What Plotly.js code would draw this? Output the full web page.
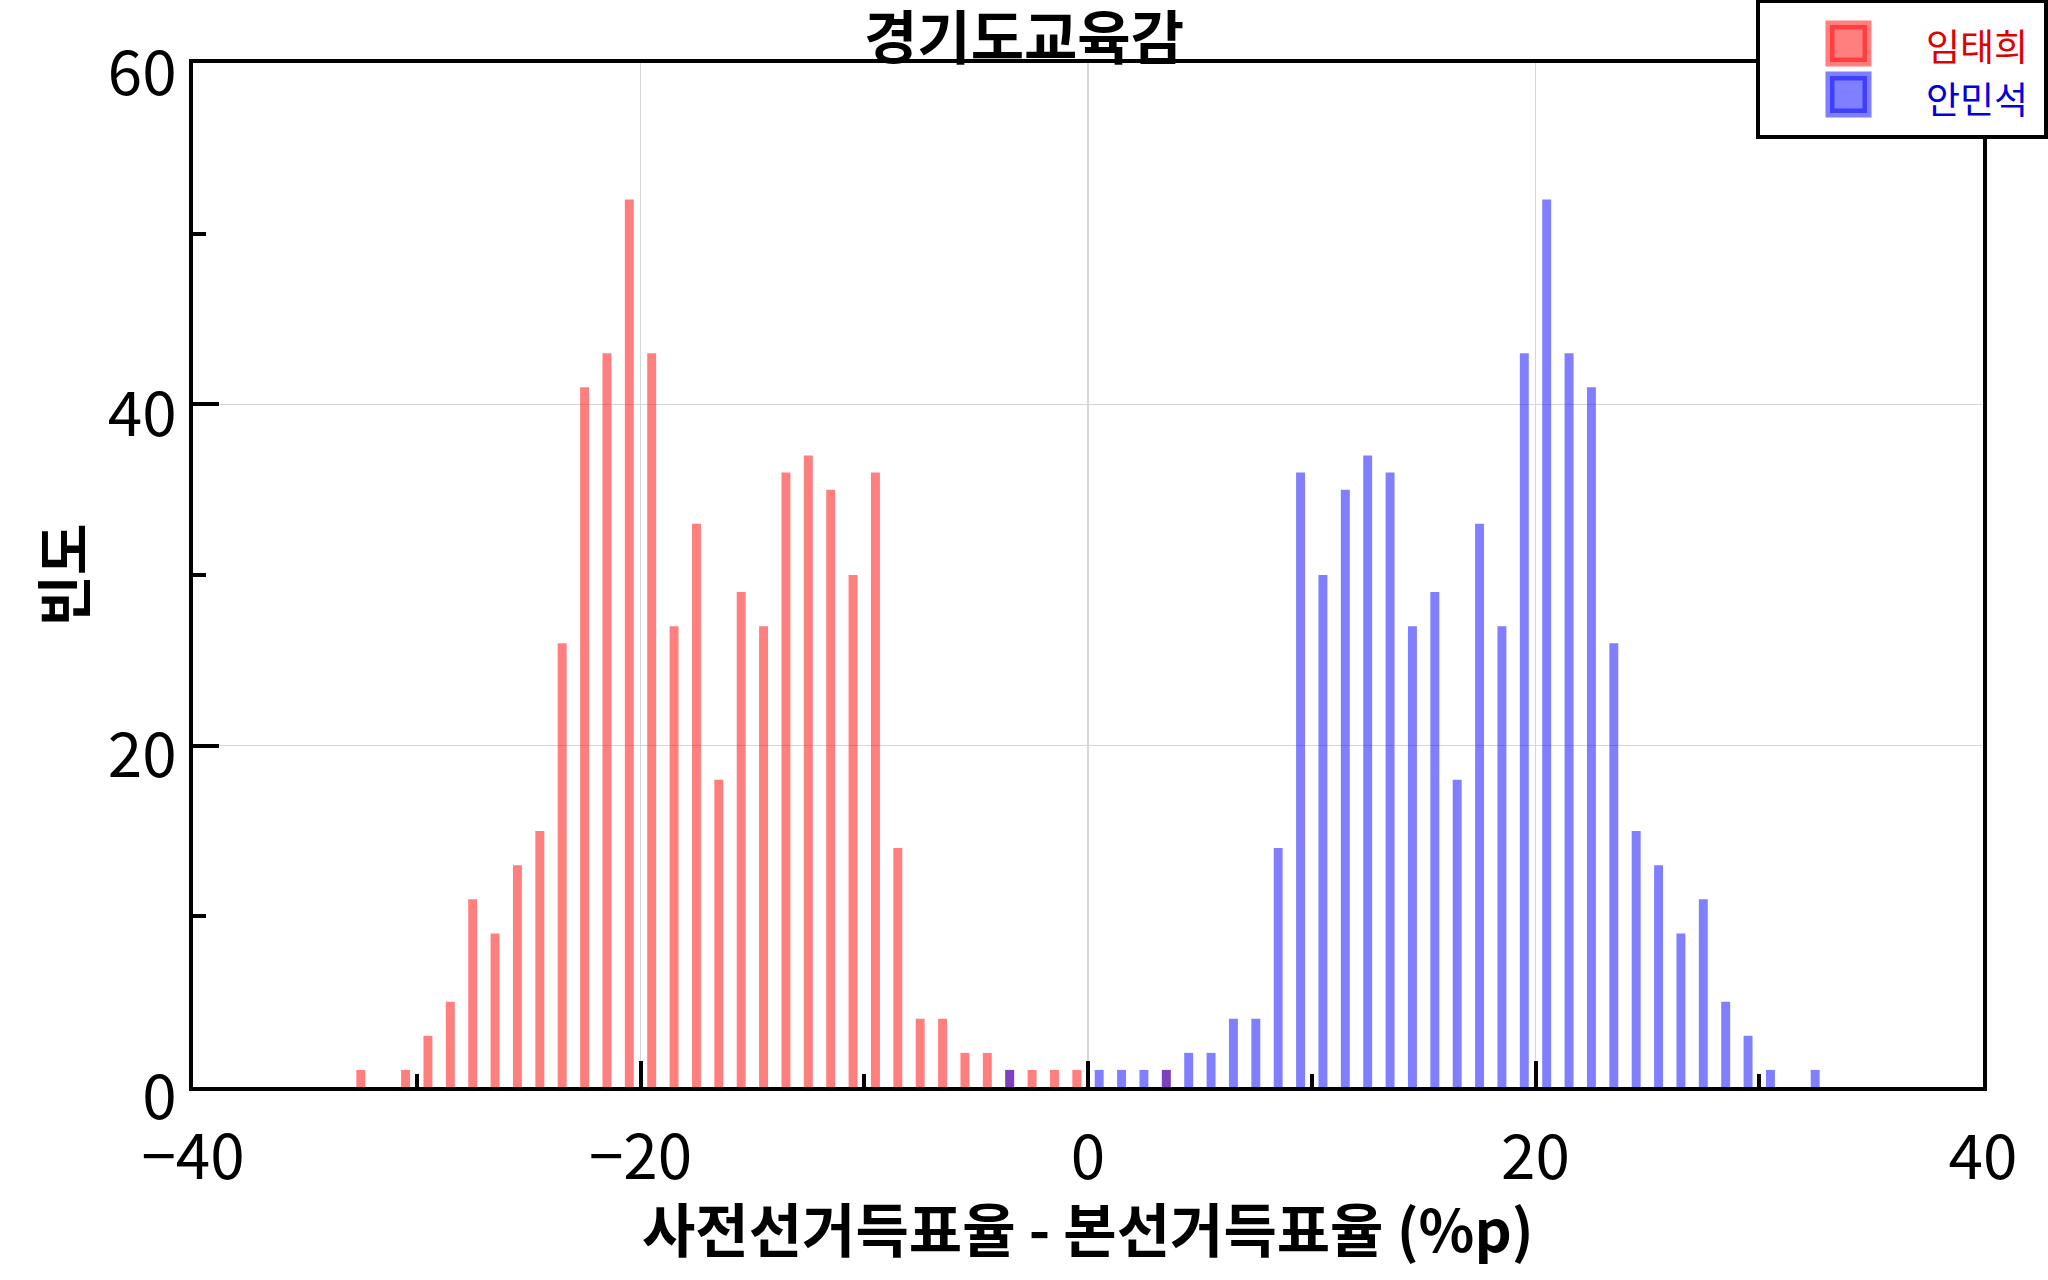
<!DOCTYPE html>
<html>
<head>
<meta charset="utf-8">
<script src="https://cdn.plot.ly/plotly-3.0.1.min.js"></script>
<style>
  html, body { margin: 0; padding: 0; background: #fff; }
  #chart { width: 2048px; height: 1280px; }
</style>
</head>
<body>
<div id="chart"></div>
<script>
// histogram bins (centre of each 1 %p bin) and counts
var names = ['임태희', '안민석'];

var redBins = [-32.5, -30.5, -29.5, -28.5, -27.5, -26.5, -25.5, -24.5, -23.5, -22.5,
               -21.5, -20.5, -19.5, -18.5, -17.5, -16.5, -15.5, -14.5, -13.5, -12.5,
               -11.5, -10.5, -9.5, -8.5, -7.5, -6.5, -5.5, -4.5, -3.5, -2.5,
               -1.5, -0.5, 3.5];
var redCounts = [1, 1, 3, 5, 11, 9, 13, 15, 26, 41,
                 43, 52, 43, 27, 33, 18, 29, 27, 36, 37,
                 35, 30, 36, 14, 4, 4, 2, 2, 1, 1,
                 1, 1, 1];

var blueBins = [-3.5, 0.5, 1.5, 2.5, 3.5, 4.5, 5.5, 6.5, 7.5, 8.5,
                9.5, 10.5, 11.5, 12.5, 13.5, 14.5, 15.5, 16.5, 17.5, 18.5,
                19.5, 20.5, 21.5, 22.5, 23.5, 24.5, 25.5, 26.5, 27.5, 28.5,
                29.5, 30.5, 32.5];
var blueCounts = [1, 1, 1, 1, 1, 2, 2, 4, 4, 14,
                  36, 30, 35, 37, 36, 27, 29, 18, 33, 27,
                  43, 52, 43, 41, 26, 15, 13, 9, 11, 5,
                  3, 1, 1];

var xTicks = [-40, -20, 0, 20, 40];
var yTicks = [0, 20, 40, 60];

var xTitle = '사전선거득표율 - 본선거득표율 (%p)';
var yTitle = '빈도';

var FONT = '"Noto Sans CJK KR", "Noto Sans", sans-serif';
var W = 2048, H = 1280;
var M = {l: 193, r: 65, t: 63, b: 193};

// pixel -> paper helpers for the hand-made legend and x title
function px(x) { return (x - M.l) / (W - M.l - M.r); }
function py(y) { return (H - M.b - y) / (H - M.t - M.b); }

var traces = [
  {
    type: 'bar', x: redBins, y: redCounts, name: names[0], width: 0.4,
    marker: {color: 'rgba(255,0,0,0.5)', line: {width: 0}}
  },
  {
    type: 'bar', x: blueBins, y: blueCounts, name: names[1], width: 0.4,
    marker: {color: 'rgba(0,0,255,0.5)', line: {width: 0}}
  }
];

var axisCommon = {
  showline: true, linewidth: 4, linecolor: '#000', mirror: true,
  ticks: 'inside', ticklen: 26, tickwidth: 4, tickcolor: '#000',
  showgrid: true, gridcolor: '#d6d6d6', gridwidth: 1.5,
  zeroline: false, automargin: false,
  tickfont: {family: FONT, size: 62, color: '#000'},
  minor: {dtick: 10, ticks: 'inside', ticklen: 13, tickwidth: 4, tickcolor: '#000', showgrid: false}
};

var layout = {
  width: W, height: H,
  margin: M,
  paper_bgcolor: '#fff', plot_bgcolor: '#fff',
  barmode: 'overlay',
  showlegend: false,
  font: {family: FONT, color: '#000'},
  title: {
    text: '경기도교육감',
    font: {family: FONT, size: 58, weight: 700, color: '#000'},
    xref: 'container', x: 0.5, xanchor: 'center',
    yref: 'container', y: 1 - 39 / H, yanchor: 'middle'
  },
  xaxis: Object.assign({}, axisCommon, {
    range: [-40, 40], tickvals: xTicks,
    ticklabelstandoff: 14
  }),
  yaxis: Object.assign({}, axisCommon, {
    range: [0, 60], tickvals: yTicks,
    ticklabelstandoff: 0, ticklabelshift: 10,
    title: {text: yTitle, standoff: 5,
            font: {family: FONT, size: 56, weight: 700, color: '#000'}}
  }),
  shapes: [
    {type: 'rect', xref: 'paper', yref: 'paper', layer: 'above',
     x0: px(1758), x1: px(2046), y0: py(137), y1: py(1),
     fillcolor: '#fff', line: {color: '#000', width: 4}},
    {type: 'rect', xref: 'paper', yref: 'paper', layer: 'above',
     x0: px(1830), x1: px(1867), y0: py(62), y1: py(25),
     fillcolor: 'rgba(255,0,0,0.5)', line: {color: 'rgba(255,0,0,0.5)', width: 9}},
    {type: 'rect', xref: 'paper', yref: 'paper', layer: 'above',
     x0: px(1830), x1: px(1867), y0: py(113), y1: py(76),
     fillcolor: 'rgba(0,0,255,0.5)', line: {color: 'rgba(0,0,255,0.5)', width: 9}}
  ],
  annotations: [
    // x-axis title
    {xref: 'paper', yref: 'paper', x: 0.5, y: py(1227), xanchor: 'center', yanchor: 'middle',
     text: xTitle, showarrow: false, font: {family: FONT, size: 58, weight: 700, color: '#000'}},
    // legend labels
    {xref: 'paper', yref: 'paper', x: px(2030), y: py(45), xanchor: 'right', yanchor: 'middle',
     text: names[0], showarrow: false, font: {family: FONT, size: 37, color: '#e00000'}},
    {xref: 'paper', yref: 'paper', x: px(2030), y: py(98), xanchor: 'right', yanchor: 'middle',
     text: names[1], showarrow: false, font: {family: FONT, size: 37, color: '#0000dd'}}
  ]
};

Plotly.newPlot('chart', traces, layout, {displayModeBar: false, staticPlot: true});
</script>
</body>
</html>
